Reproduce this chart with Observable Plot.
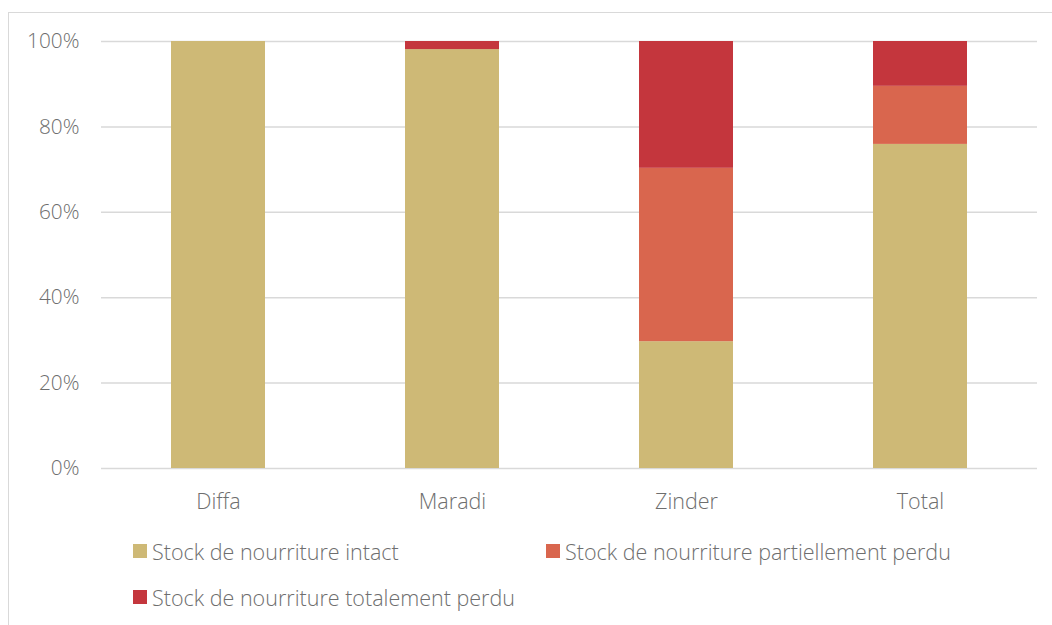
<!DOCTYPE html>
<html>
<head>
<meta charset="utf-8">
<script src="https://cdn.jsdelivr.net/npm/d3@7"></script>
<script src="https://cdn.jsdelivr.net/npm/@observablehq/plot@0.6"></script>
<style>
  html, body { margin: 0; padding: 0; background: #fff; }
  body { width: 1052px; height: 625px; position: relative; overflow: hidden; font-family: "Open Sans", "Noto Sans", sans-serif; }
  #frame { position: absolute; left: 8px; top: 12px; width: 1200px; height: 800px; border: 1.5px solid #d9d9d9; box-sizing: border-box; }
  #chart { position: absolute; left: 0; top: 0; }
  #legend { position: absolute; left: 133px; top: 536px; display: grid; grid-template-columns: 413px auto; row-gap: 16px; }
  .item { display: flex; align-items: center; font-size: 21.5px; font-weight: 300; color: #6e6e6e; height: 30px; white-space: nowrap; }
  .sw { width: 14px; height: 14px; margin-right: 5px; flex: none; }
</style>
</head>
<body>
<div id="frame"></div>
<div id="chart"></div>
<div id="legend"></div>
<script>
const categories = ["Diffa", "Maradi", "Zinder", "Total"];
const seriesNames = [
  "Stock de nourriture intact",
  "Stock de nourriture partiellement perdu",
  "Stock de nourriture totalement perdu"
];
const intact = [100, 98.1, 29.7, 75.9];
const partiel = [0, 0, 40.6, 13.6];
const total = [0, 1.9, 29.7, 10.5];
const yTicks = [0, 20, 40, 60, 80, 100];
const colors = ["#CEB976", "#D9664E", "#C4363D"];

const seriesValues = [intact, partiel, total];
const rows = [];
seriesNames.forEach((s, si) => {
  categories.forEach((c, ci) => {
    rows.push({ cat: c, series: s, value: seriesValues[si][ci] });
  });
});

const plot = Plot.plot({
  width: 1052,
  height: 518,
  marginTop: 41,
  marginBottom: 50,
  marginLeft: 101,
  marginRight: 15,
  style: { fontFamily: "'Open Sans', 'Noto Sans', sans-serif", fontSize: "20.8px", fontWeight: 300, color: "#6e6e6e", background: "transparent" },
  x: { domain: categories, paddingInner: 0.6, paddingOuter: 0.3, label: null },
  y: { domain: [0, 100], label: null },
  color: { domain: seriesNames, range: colors },
  marks: [
    Plot.ruleY(yTicks, { stroke: "#d9d9d9", strokeWidth: 1.5 }),
    Plot.barY(rows, { x: "cat", y: "value", fill: "series", order: seriesNames }),
    Plot.axisX({ tickSize: 0, tickPadding: 25, fontSize: 21.5 }),
    Plot.axisY({ ticks: yTicks, tickSize: 0, tickPadding: 22, tickFormat: d => d + "%", fontSize: 20.8 })
  ]
});
document.getElementById("chart").appendChild(plot);

const legend = document.getElementById("legend");
seriesNames.forEach((s, i) => {
  const it = document.createElement("div");
  it.className = "item";
  const sw = document.createElement("span");
  sw.className = "sw";
  sw.style.background = colors[i];
  const tx = document.createElement("span");
  tx.textContent = s;
  it.appendChild(sw);
  it.appendChild(tx);
  legend.appendChild(it);
});
</script>
</body>
</html>
